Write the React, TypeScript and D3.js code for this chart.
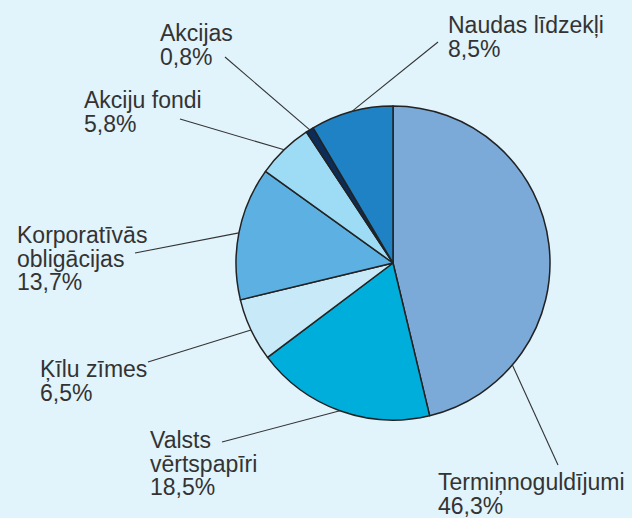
import React from "react";
import * as d3 from "d3";

const categories = [
  "Termiņnoguldījumi",
  "Valsts vērtspapīri",
  "Ķīlu zīmes",
  "Korporatīvās obligācijas",
  "Akciju fondi",
  "Akcijas",
  "Naudas līdzekļi",
];
const shares = [46.3, 18.5, 6.5, 13.7, 5.8, 0.8, 8.5];
const percentLabels = ["46,3%", "18,5%", "6,5%", "13,7%", "5,8%", "0,8%", "8,5%"];
const labelLines = [
  ["Termiņnoguldījumi"],
  ["Valsts", "vērtspapīri"],
  ["Ķīlu zīmes"],
  ["Korporatīvās", "obligācijas"],
  ["Akciju fondi"],
  ["Akcijas"],
  ["Naudas līdzekļi"],
];
const colors = ["#7BAAD9", "#00AEDB", "#C8E9F8", "#5DB1E2", "#9EDCF6", "#0C2D5A", "#1E82C4"];

// layout: text position (x, first baseline), leader start, optional anchor angle (deg)
const labelLayout = [
  { x: 438, y: 490, lx: 558, ly: 465, angle: 130.5 },
  { x: 150, y: 448, lx: 222, ly: 442 },
  { x: 40, y: 377, lx: 148, ly: 362 },
  { x: 17, y: 243, lx: 135, ly: 253 },
  { x: 84, y: 108, lx: 180, ly: 119 },
  { x: 160, y: 41, lx: 225, ly: 57 },
  { x: 448, y: 33, lx: 438, ly: 42 },
];

const W = 632;
const H = 518;
const cx = 393;
const cy = 263;
const R = 157;
const lineH = 23.5;

export default function App() {
  const data = categories.map((c, i) => ({ name: c, value: shares[i], i }));
  const pie = d3
    .pie<any>()
    .value((d) => d.value)
    .sort(null)
    .startAngle(0)
    .endAngle(2 * Math.PI);
  const arcs = pie(data);
  const arc = d3.arc<any>().innerRadius(0).outerRadius(R);

  return (
    <svg
      width={W}
      height={H}
      style={{ position: "fixed", left: 0, top: 0 }}
      fontFamily="'Liberation Sans', Arial, sans-serif"
    >
      <rect x={0} y={0} width={W} height={H} fill="#E1F3FB" />
      <g transform={`translate(${cx},${cy})`}>
        {arcs.map((a, i) => (
          <path
            key={i}
            d={arc(a) || ""}
            fill={colors[i]}
            stroke="#222"
            strokeWidth={1.5}
            strokeLinejoin="round"
          />
        ))}
      </g>
      {arcs.map((a, i) => {
        const L = labelLayout[i];
        const ang = L.angle !== undefined ? (L.angle * Math.PI) / 180 : (a.startAngle + a.endAngle) / 2;
        const ex = cx + R * Math.sin(ang);
        const ey = cy - R * Math.cos(ang);
        const lines = [...labelLines[i], percentLabels[i]];
        return (
          <g key={i}>
            <line x1={L.lx} y1={L.ly} x2={ex} y2={ey} stroke="#333" strokeWidth={1.1} />
            <text x={L.x} y={L.y} fontSize={23} fill="#333">
              {lines.map((t, j) => (
                <tspan key={j} x={L.x} y={L.y + j * lineH}>
                  {t}
                </tspan>
              ))}
            </text>
          </g>
        );
      })}
    </svg>
  );
}
